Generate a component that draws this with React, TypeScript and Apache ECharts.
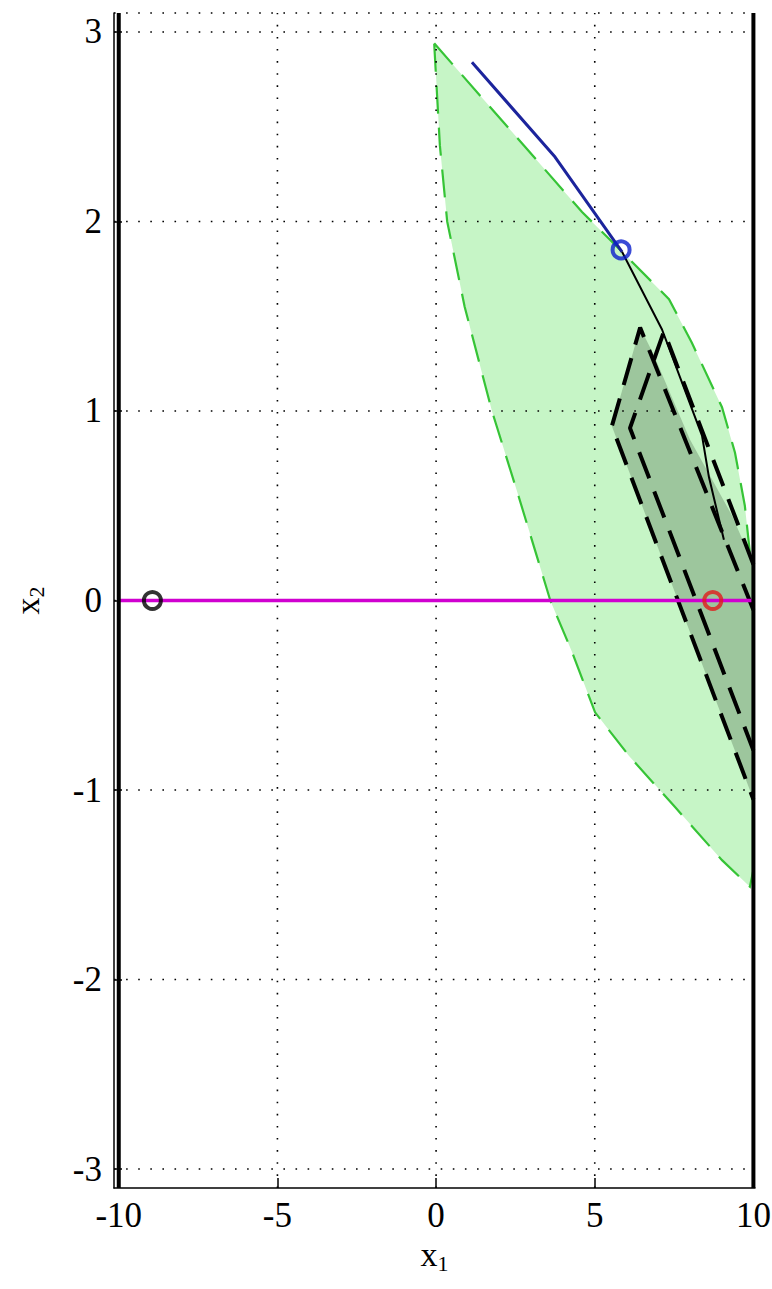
import React, { useEffect, useRef } from "react";
import * as echarts from "echarts";

// ---- axis data ----
const xTickLabels = [-10, -5, 0, 5, 10];
const yTickLabels = [-3, -2, -1, 0, 1, 2, 3];
const xGridValues = [-5, 0, 5];
const yGridValues = [-3, -2, -1, 0, 1, 2, 3, 3.1];
const xLimits = [-10.15, 10.05];
const yLimits = [-3.1, 3.1];

// ---- light green feasible region ----
const greenRegion: number[][] = [
  [-0.06, 2.94], [2.3, 2.49], [4.6, 2.05], [5.86, 1.84], [7.34, 1.59],
  [8.06, 1.36], [9.01, 1.02], [9.42, 0.78], [9.73, 0.5], [9.89, 0.25],
  [10, 0.06], [10, -1.42], [9.89, -1.51], [9.01, -1.37], [7.53, -1.09],
  [6.08, -0.82], [5.01, -0.59], [4.28, -0.27], [3.6, 0.0], [2.6, 0.55],
  [1.76, 1.0], [0.9, 1.55], [0.35, 2.0], [0.12, 2.4], [-0.06, 2.94],
];

// ---- dark (terminal) region ----
const darkRegion: number[][] = [
  [6.43, 1.44], [6.85, 1.3], [8.0, 0.85], [9.32, 0.45], [10, 0.19],
  [10, -1.05], [5.54, 0.92], [6.43, 1.44],
];

// ---- dashed black set outlines ----
const outlineA: number[][] = [[10, -0.05], [6.43, 1.44], [5.54, 0.92], [10, -1.05]];
const outlineB: number[][] = [[10, 0.19], [7.18, 1.42], [6.11, 0.91], [10, -0.79]];

// ---- trajectories ----
const blueTraj: number[][] = [[1.13, 2.84], [3.75, 2.34], [5.86, 1.84]];
const blackTraj: number[][] = [[5.86, 1.84], [7.12, 1.43], [8.38, 0.87], [8.6, 0.65], [9.07, 0.32]];
const magentaLine: number[][] = [[-10, 0], [10, 0]];
const leftBound: number[][] = [[-10, -3.1], [-10, 3.1]];
const rightBound: number[][] = [[10, -3.1], [10, 3.1]];

// ---- markers ----
const blackPoint: number[][] = [[-8.94, 0]];
const redPoint: number[][] = [[8.72, 0]];
const bluePoint: number[][] = [[5.83, 1.85]];

const FONT = "'Liberation Serif', 'DejaVu Serif', serif";

function polygonSeries(points: number[][], style: any, z: number) {
  return {
    type: "custom",
    coordinateSystem: "cartesian2d",
    data: [[0, 0]],
    clip: false,
    silent: true,
    z,
    renderItem: (_params: any, api: any) => ({
      type: "polygon",
      shape: { points: points.map((p) => api.coord(p)) },
      style,
    }),
  };
}

function lineSeries(data: number[][], lineStyle: any, z: number) {
  return {
    type: "line",
    data,
    symbol: "none",
    silent: true,
    clip: false,
    z,
    lineStyle,
  };
}

function markerSeries(data: number[][], color: string) {
  return {
    type: "scatter",
    data,
    symbol: "circle",
    symbolSize: 17,
    silent: true,
    z: 20,
    itemStyle: { color: "transparent", borderColor: color, borderWidth: 4 },
  };
}

export default function App() {
  const ref = useRef<HTMLDivElement>(null);
  useEffect(() => {
    if (!ref.current) return;
    const chart = echarts.init(ref.current, undefined, { renderer: "svg" });
    const dotted = { color: "#000", width: 1.6, type: [1.6, 10.5] };
    const series: any[] = [
      polygonSeries(greenRegion, { fill: "#c6f5c6", stroke: "#36c436", lineWidth: 2.2, lineDash: [28, 14] }, 1),
      polygonSeries(darkRegion, { fill: "#9dc69d" }, 2),
    ];
    xGridValues.forEach((x) => series.push(lineSeries([[x, yLimits[0]], [x, yLimits[1]]], dotted, 3)));
    yGridValues.forEach((y) => series.push(lineSeries([[xLimits[0], y], [10, y]], dotted, 3)));
    series.push(lineSeries(outlineA, { color: "#000", width: 4, type: [28, 14] }, 5));
    series.push(lineSeries(outlineB, { color: "#000", width: 4, type: [28, 14] }, 5));
    series.push(lineSeries(blueTraj, { color: "#1c249c", width: 3 }, 6));
    series.push(lineSeries(blackTraj, { color: "#000", width: 2 }, 6));
    series.push(lineSeries(magentaLine, { color: "#d000d0", width: 3.5 }, 7));
    series.push(lineSeries(leftBound, { color: "#000", width: 4 }, 8));
    series.push(lineSeries(rightBound, { color: "#000", width: 4 }, 8));
    series.push(markerSeries(blackPoint, "#000"));
    series.push(markerSeries(redPoint, "#e01a1a"));
    series.push(markerSeries(bluePoint, "#0a1ecc"));

    const rich = {
      a: { fontFamily: FONT, fontSize: 34, color: "#000" },
      b: { fontFamily: FONT, fontSize: 22, color: "#000", padding: [18, 0, 0, 0] },
    };

    chart.setOption({
      animation: false,
      backgroundColor: "#fff",
      grid: { left: 114, right: 17, top: 13, bottom: 101, containLabel: false, outerBoundsMode: "none" },
      xAxis: {
        type: "value",
        min: xLimits[0],
        max: xLimits[1],
        name: "{a|x}{b|1}",
        nameLocation: "middle",
        nameGap: 36,
        nameTextStyle: { rich },
        splitLine: { show: false },
        axisLine: { show: true, onZero: false, lineStyle: { color: "#000", width: 1.5 } },
        axisTick: { show: true, inside: true, length: 10, customValues: xTickLabels, lineStyle: { color: "#000", width: 1.5 } },
        axisLabel: { customValues: xTickLabels, fontFamily: FONT, fontSize: 35, color: "#000", margin: 10 },
      },
      yAxis: {
        type: "value",
        min: yLimits[0],
        max: yLimits[1],
        name: "{a|x}{b|2}",
        nameLocation: "middle",
        nameGap: 67,
        nameRotate: 90,
        nameTextStyle: { rich },
        splitLine: { show: false },
        axisLine: { show: true, onZero: false, lineStyle: { color: "#000", width: 1.5 } },
        axisTick: { show: true, inside: true, length: 8, customValues: yTickLabels, lineStyle: { color: "#000", width: 1.5 } },
        axisLabel: { customValues: yTickLabels, fontFamily: FONT, fontSize: 35, color: "#000", margin: 12 },
      },
      series,
    });
    return () => chart.dispose();
  }, []);
  return (
    <div
      ref={ref}
      style={{ position: "fixed", left: 0, top: 0, width: 772, height: 1289, background: "#fff" }}
    />
  );
}
